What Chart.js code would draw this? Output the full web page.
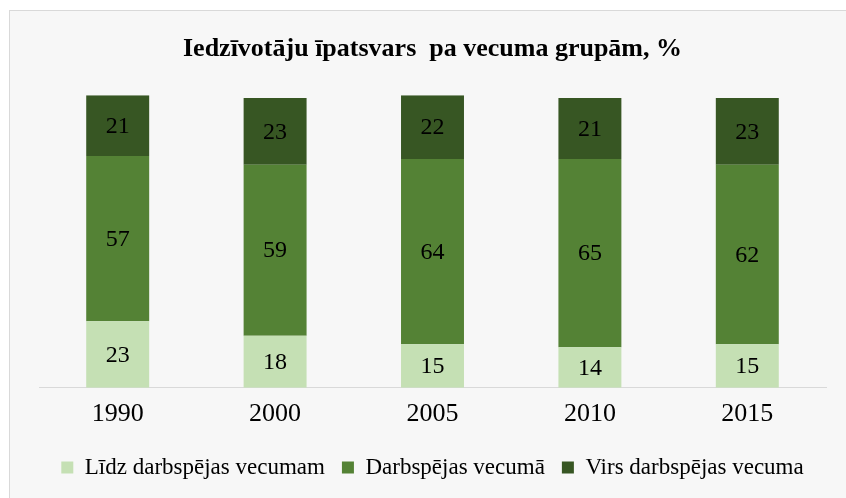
<!DOCTYPE html>
<html lang="lv">
<head>
<meta charset="UTF-8">
<title>Iedzīvotāju īpatsvars pa vecuma grupām</title>
<script src="https://cdn.jsdelivr.net/npm/chart.js@4.4.1/dist/chart.umd.min.js"></script>
<style>
  html, body { margin: 0; padding: 0; background: #fff; }
  #panel {
    position: absolute; left: 9px; top: 10px;
    width: 837px; height: 488px;
    background: #f7f7f7;
    border-left: 1px solid #d9d9d9;
    border-top: 1px solid #d9d9d9;
  }
  #chart { display: block; }
</style>
</head>
<body>
<div id="panel"><canvas id="chart" width="836" height="487"></canvas></div>
<script>
// data
const years = ['1990', '2000', '2005', '2010', '2015'];
const underWorkingAge = [23, 18, 15, 14, 15];
const workingAge = [57, 59, 64, 65, 62];
const overWorkingAge = [21, 23, 22, 21, 23];

const serif = '"Liberation Serif", "Times New Roman", serif';

// writes the value in the middle of every segment
const segmentLabels = {
  id: 'segmentLabels',
  afterDatasetsDraw(chart) {
    const ctx = chart.ctx;
    ctx.save();
    ctx.font = '24px ' + serif;
    ctx.fillStyle = '#000';
    ctx.textAlign = 'center';
    ctx.textBaseline = 'middle';
    chart.data.datasets.forEach((ds, i) => {
      chart.getDatasetMeta(i).data.forEach((bar, j) => {
        ctx.fillText(ds.data[j], bar.x, (bar.y + bar.base) / 2 + 1);
      });
    });
    ctx.restore();
  }
};

new Chart(document.getElementById('chart'), {
  type: 'bar',
  data: {
    labels: years,
    datasets: [
      { label: 'Līdz darbspējas vecumam', data: underWorkingAge, backgroundColor: '#c5e0b4' },
      { label: 'Darbspējas vecumā', data: workingAge, backgroundColor: '#548235' },
      { label: 'Virs darbspējas vecuma', data: overWorkingAge, backgroundColor: '#375623' }
    ]
  },
  options: {
    responsive: false,
    animation: false,
    layout: { padding: { left: 29, right: 20, top: 0, bottom: 9 } },
    datasets: { bar: { categoryPercentage: 0.8, barPercentage: 0.5 } },
    scales: {
      x: {
        stacked: true,
        grid: { display: false },
        border: { display: true, color: '#d9d9d9', width: 1 },
        ticks: { color: '#000', padding: 3, font: { family: serif, size: 26 } },
        // a bit of empty room under the year labels
        afterFit(scale) { scale.height += 6; }
      },
      y: {
        stacked: true,
        display: false,
        min: 0,
        max: 101
      }
    },
    plugins: {
      title: {
        display: true,
        text: 'Iedzīvotāju īpatsvars  pa vecuma grupām, %',
        color: '#000',
        font: { family: serif, size: 26, weight: 'bold' },
        padding: { top: 23, bottom: 30 }
      },
      legend: {
        position: 'bottom',
        labels: {
          color: '#000',
          boxWidth: 12,
          boxHeight: 12,
          padding: 17,
          font: { family: serif, size: 23 }
        }
      },
      tooltip: { enabled: false }
    }
  },
  plugins: [segmentLabels]
});
</script>
</body>
</html>
